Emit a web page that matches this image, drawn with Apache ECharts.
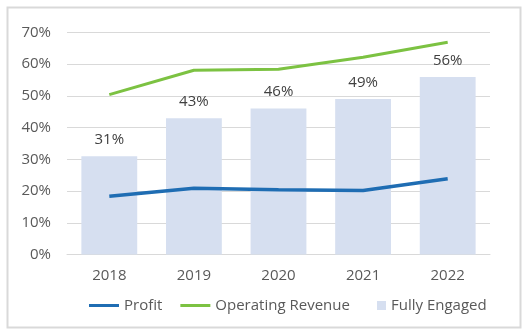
<!DOCTYPE html>
<html><head><meta charset="utf-8">
<script src="https://cdn.jsdelivr.net/npm/echarts@6/dist/echarts.min.js"></script>
<style>html,body{margin:0;padding:0;background:#fff}#c{width:525px;height:331px}</style>
</head><body><div id="c"></div>
<script>
const categories = ['2018','2019','2020','2021','2022'];
const fullyEngaged = [31, 43, 46, 49, 56];
const profit = [18.4, 20.9, 20.4, 20.2, 23.9];
const operatingRevenue = [50.4, 58.1, 58.4, 62.2, 66.9];
const yTicks = {min: 0, max: 70, interval: 10};

const font = "'Open Sans', sans-serif";
const chart = echarts.init(document.getElementById('c'));
chart.setOption({
  animation: false,
  backgroundColor: '#fff',
  graphic: [{
    type: 'rect', left: 5, top: 5, shape: {width: 513, height: 320},
    style: {fill: 'none', stroke: '#d9d9d9', lineWidth: 2}, silent: true
  }],
  grid: {left: 67, right: 35, top: 32.5, bottom: 76.5},
  legend: [{
    left: 84, top: 293, itemWidth: 30, itemHeight: 3, itemGap: 18,
    icon: 'rect',
    textStyle: {fontFamily: font, fontSize: 15, color: '#595959'},
    data: ['Profit', 'Operating Revenue']
  }, {
    left: 372, top: 293, itemWidth: 9, itemHeight: 9,
    icon: 'rect',
    textStyle: {fontFamily: font, fontSize: 15, color: '#595959'},
    data: ['Fully Engaged']
  }],
  xAxis: {
    type: 'category', data: categories,
    axisLine: {show: true, lineStyle: {color: '#d9d9d9'}},
    axisTick: {show: false},
    axisLabel: {fontFamily: font, fontSize: 15, color: '#595959', margin: 14}
  },
  yAxis: {
    type: 'value', min: yTicks.min, max: yTicks.max, interval: yTicks.interval,
    axisLine: {show: false}, axisTick: {show: false},
    splitLine: {lineStyle: {color: '#d9d9d9'}},
    axisLabel: {fontFamily: font, fontSize: 15, color: '#595959', formatter: '{value}%', margin: 16}
  },
  series: [{
    name: 'Fully Engaged', type: 'bar', data: fullyEngaged, barWidth: '66%',
    itemStyle: {color: '#d6dff0'},
    label: {show: true, position: 'top', distance: 9, formatter: '{c}%',
      fontFamily: font, fontSize: 15, color: '#404040'},
    z: 1
  }, {
    name: 'Profit', type: 'line', data: profit, showSymbol: false, symbol: 'none',
    lineStyle: {color: '#1f6db3', width: 3.5}, itemStyle: {color: '#1f6db3'}, z: 3
  }, {
    name: 'Operating Revenue', type: 'line', data: operatingRevenue, showSymbol: false, symbol: 'none',
    lineStyle: {color: '#7cc242', width: 3}, itemStyle: {color: '#7cc242'}, z: 3
  }]
});
</script></body></html>
